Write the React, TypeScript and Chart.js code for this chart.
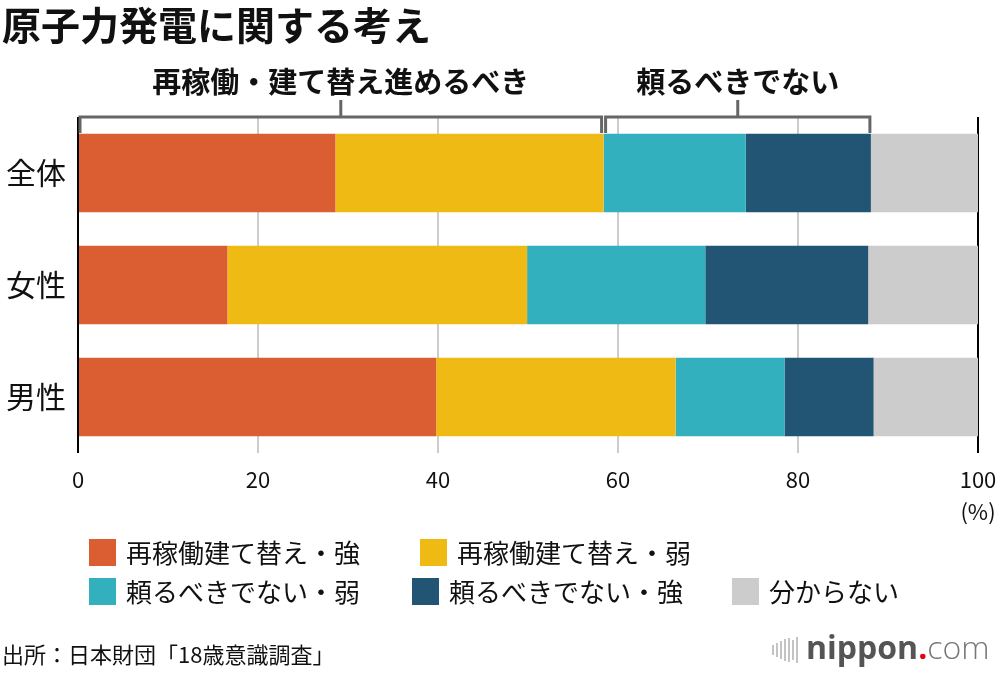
import React, { useEffect, useRef } from 'react';
import { Chart, registerables } from 'chart.js';

Chart.register(...registerables);

const categories = ['全体', '女性', '男性'];
const seriesLabels = [
  '再稼働建て替え・強',
  '再稼働建て替え・弱',
  '頼るべきでない・弱',
  '頼るべきでない・強',
  '分からない',
];
const strongRestart = [28.6, 16.6, 39.8];
const weakRestart = [29.8, 33.3, 26.6];
const weakNoRely = [15.8, 19.8, 12.1];
const strongNoRely = [13.9, 18.1, 9.9];
const dontKnow = [11.9, 12.2, 11.6];
const xTickValues = [0, 20, 40, 60, 80, 100];
const unitLabel = '(%)';
const titleText = '原子力発電に関する考え';
const groupLabels = ['再稼働・建て替え進めるべき', '頼るべきでない'];
const sourceText = '出所：日本財団「18歳意識調査」';
const colors = ['#DB5E32', '#F0BA15', '#33B0BE', '#225573', '#CCCCCC'];

const FONT = '"Noto Sans CJK JP", "Noto Sans", sans-serif';

const overlayPlugin = {
  id: 'overlay',
  afterDraw(chart: any) {
    const ctx = chart.ctx as CanvasRenderingContext2D;
    const xs = chart.scales.x;
    const area = chart.chartArea;
    const ds = chart.data.datasets;
    ctx.save();

    // Title
    ctx.fillStyle = '#111';
    ctx.font = `bold 39px ${FONT}`;
    ctx.textAlign = 'left';
    ctx.textBaseline = 'middle';
    ctx.fillText(titleText, 2, 25);

    // Brackets computed from the first category (全体)
    const b = ds[0].data[0] + ds[1].data[0];
    const c = b + ds[2].data[0] + ds[3].data[0];
    const top = area.top;
    const drawBracket = (x0: number, x1: number, label: string) => {
      ctx.strokeStyle = '#666';
      ctx.lineWidth = 3;
      ctx.lineJoin = 'miter';
      ctx.beginPath();
      ctx.moveTo(x0, top + 16);
      ctx.lineTo(x0, top);
      ctx.lineTo(x1, top);
      ctx.lineTo(x1, top + 16);
      const m = (x0 + x1) / 2;
      ctx.moveTo(m, top);
      ctx.lineTo(m, top - 17);
      ctx.stroke();
      ctx.font = `bold 29px ${FONT}`;
      ctx.textAlign = 'center';
      ctx.textBaseline = 'middle';
      ctx.fillStyle = '#111';
      ctx.fillText(label, m, top - 35);
    };
    drawBracket(xs.getPixelForValue(0) + 2, xs.getPixelForValue(b) - 2, groupLabels[0]);
    drawBracket(xs.getPixelForValue(b) + 2, xs.getPixelForValue(c) - 1, groupLabels[1]);

    // Legend
    const rows = [[0, 1], [2, 3, 4]];
    const rowX = [[89, 420], [89, 412, 732]];
    const rowY = [552, 591];
    ctx.font = `26px ${FONT}`;
    ctx.textAlign = 'left';
    ctx.textBaseline = 'middle';
    rows.forEach((r, ri) =>
      r.forEach((di, k) => {
        const sx = rowX[ri][k];
        ctx.fillStyle = ds[di].backgroundColor;
        ctx.fillRect(sx, rowY[ri] - 13, 27, 27);
        ctx.fillStyle = '#111';
        ctx.fillText(ds[di].label, sx + 37, rowY[ri] + 1);
      })
    );

    // Source
    ctx.font = `22px ${FONT}`;
    ctx.fillStyle = '#111';
    ctx.textAlign = 'left';
    ctx.fillText(sourceText, 2, 655);

    // Logo
    ctx.strokeStyle = '#c4c4c4';
    ctx.lineWidth = 2;
    const bars = [
      [773, 10],
      [777, 14],
      [781, 18],
      [785, 22],
      [789, 24],
      [793, 20],
      [797, 26],
    ];
    bars.forEach(([bx, h]) => {
      ctx.beginPath();
      ctx.moveTo(bx, 650 - h / 2);
      ctx.lineTo(bx, 650 + h / 2);
      ctx.stroke();
    });
    ctx.textBaseline = 'alphabetic';
    ctx.font = `bold 32px "Open Sans", ${FONT}`;
    ctx.fillStyle = '#555';
    ctx.fillText('nippon', 806, 659);
    let lx = 806 + ctx.measureText('nippon').width;
    ctx.fillStyle = '#e60012';
    ctx.fillText('.', lx, 659);
    lx += ctx.measureText('.').width;
    ctx.font = `300 32px "Open Sans", ${FONT}`;
    ctx.fillStyle = '#777';
    ctx.fillText('com', lx, 659);

    ctx.restore();
  },
};

export default function App() {
  const ref = useRef<HTMLCanvasElement | null>(null);

  useEffect(() => {
    if (!ref.current) return;
    const seriesData = [strongRestart, weakRestart, weakNoRely, strongNoRely, dontKnow];
    const chart = new Chart(ref.current, {
      type: 'bar',
      data: {
        labels: categories,
        datasets: seriesData.map((d, i) => ({
          label: seriesLabels[i],
          data: d,
          backgroundColor: colors[i],
          borderWidth: 0,
          barPercentage: 0.7,
          categoryPercentage: 1,
        })),
      },
      options: {
        indexAxis: 'y',
        responsive: false,
        animation: false,
        layout: { padding: { top: 117, left: 0, right: 22, bottom: 0 } },
        plugins: {
          legend: { display: false },
          title: { display: false },
          tooltip: { enabled: false },
        },
        scales: {
          x: {
            stacked: true,
            min: 0,
            max: 100,
            afterBuildTicks: (scale: any) => {
              scale.ticks = xTickValues.map((v) => ({ value: v }));
            },
            afterFit: (scale: any) => {
              scale.height = 221;
              scale.paddingLeft = 0;
              scale.paddingRight = 0;
            },
            grid: {
              drawTicks: false,
              lineWidth: 2,
              color: (ctx: any) =>
                ctx.tick && (ctx.tick.value === 0 || ctx.tick.value === 100) ? '#000' : '#cccccc',
            },
            border: { display: false },
            ticks: {
              padding: 11,
              color: '#111',
              maxRotation: 0,
              font: { family: FONT, size: 22, lineHeight: 1.45 },
              callback: (v: any) => (Number(v) === 100 ? [String(v), unitLabel] : String(v)),
            },
          },
          y: {
            stacked: true,
            afterFit: (scale: any) => {
              scale.width = 78;
              scale.paddingTop = 0;
              scale.paddingBottom = 0;
            },
            grid: { display: false, drawTicks: false },
            border: { display: false },
            ticks: {
              padding: 12,
              color: '#111',
              font: { family: FONT, size: 30 },
            },
          },
        },
      },
      plugins: [overlayPlugin],
    } as any);
    return () => chart.destroy();
  }, []);

  return (
    <div style={{ position: 'absolute', left: 0, top: 0, width: 1000, height: 674, background: '#fff' }}>
      <canvas ref={ref} width={1000} height={674} style={{ display: 'block' }} />
    </div>
  );
}
